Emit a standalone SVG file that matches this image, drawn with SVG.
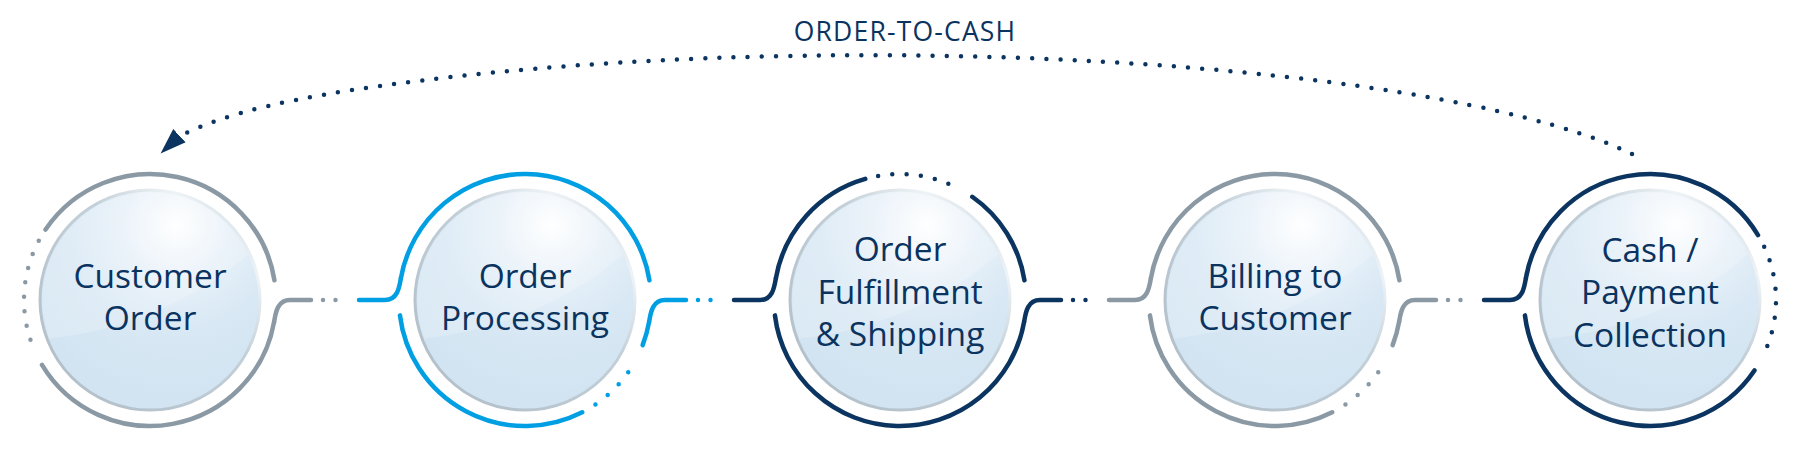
<svg xmlns="http://www.w3.org/2000/svg" xmlns:xlink="http://www.w3.org/1999/xlink" width="1800" height="450" viewBox="0 0 1800 450">
<style>
.ring{fill:none;stroke-width:4.5;stroke-linecap:round}
.dots{fill:none;stroke-width:4.5;stroke-linecap:round}
.grey{stroke:#8a99a4}
.blue{stroke:#009fe3}
.navy{stroke:#0b3560}
.label{font-family:"Open Sans","Liberation Sans",sans-serif;font-weight:400;font-size:33.5px;fill:#0b3360;text-anchor:middle}
.title{font-family:"Open Sans","Liberation Sans",sans-serif;font-weight:400;font-size:26.5px;fill:#0b3360;text-anchor:middle;letter-spacing:1.2px}
</style>
<defs>
<radialGradient id="glass" cx="0.62" cy="0.16" r="0.78">
<stop offset="0" stop-color="#ffffff"/>
<stop offset="0.3" stop-color="#e8f1f9"/>
<stop offset="0.62" stop-color="#d8e8f4"/>
<stop offset="1" stop-color="#d2e4f2"/>
</radialGradient>
<linearGradient id="rim" x1="0" y1="1" x2="1" y2="0">
<stop offset="0" stop-color="#aebcc7"/>
<stop offset="0.6" stop-color="#c4d0d8"/>
<stop offset="0.8" stop-color="#eef3f6"/>
<stop offset="1" stop-color="#c4d0d8"/>
</linearGradient>
<g id="bubble">
<circle r="110" fill="url(#glass)"/>
<path d="M -100.8,38.7 A 108 108 0 0 1 97.9,-45.6 Q 15,25 -100.8,38.7 Z" fill="#ffffff" opacity="0.2"/>
<circle r="110" fill="none" stroke="url(#rim)" stroke-width="3"/>
</g>
<marker id="arrow" markerUnits="userSpaceOnUse" markerWidth="30" markerHeight="20" viewBox="0 -10 30 20" refX="2" refY="0" orient="136.5">
<path d="M0,-9 L26,0 L0,9 Z" fill="#0b3560"/>
</marker>
</defs>

<g id="cycle">
<text class="title" x="905" y="41">ORDER-TO-CASH</text>
<path class="dots navy" stroke-dasharray="0 14.2" d="M 1632,154 A 820 156 0 0 0 387,85 C 300,97 225,112 178,137" marker-end="url(#arrow)"/>
</g>

<g id="connectors">
<path class="ring grey" d="M 274.09,321.88 C 275.5,314 277,300 290,300 L 311,300"/>
<path class="dots grey" stroke-dasharray="0 12.5" d="M 323,300 L 348,300"/>
<path class="ring blue" d="M 359,300 L 385,300 C 398,300 399.5,286 400.91,278.13"/>

<path class="ring blue" d="M 649.09,321.88 C 650.5,314 652,300 665,300 L 686,300"/>
<path class="dots blue" stroke-dasharray="0 12.5" d="M 698,300 L 723,300"/>
<path class="ring navy" d="M 734,300 L 760,300 C 773,300 774.5,286 775.91,278.13"/>

<path class="ring navy" d="M 1024.09,321.88 C 1025.5,314 1027,300 1040,300 L 1061,300"/>
<path class="dots navy" stroke-dasharray="0 12.5" d="M 1073,300 L 1098,300"/>
<path class="ring grey" d="M 1109,300 L 1135,300 C 1148,300 1149.5,286 1150.91,278.13"/>

<path class="ring grey" d="M 1399.09,321.88 C 1400.5,314 1402,300 1415,300 L 1436,300"/>
<path class="dots grey" stroke-dasharray="0 12.5" d="M 1448,300 L 1473,300"/>
<path class="ring navy" d="M 1484,300 L 1510,300 C 1523,300 1524.5,286 1525.91,278.13"/>
</g>

<g id="node-customer-order">
<path class="ring grey" d="M 45.55,229.54 A 126 126 0 0 1 274.45,280.29"/>
<path class="ring grey" d="M 42.00,364.89 A 126 126 0 0 0 274.09,321.88"/>
<path class="dots grey" stroke-dasharray="0 14.57" d="M 38.75,240.84 A 126 126 0 0 0 35.81,353.25"/>
<use xlink:href="#bubble" x="150" y="300"/>
<text class="label" x="150" y="288">Customer</text>
<text class="label" x="150" y="330">Order</text>
</g>

<g id="node-order-processing">
<path class="ring blue" d="M 400.91,278.13 A 126 126 0 0 1 649.45,280.29"/>
<path class="ring blue" d="M 399.94,315.36 A 126 126 0 0 0 582.20,412.27"/>
<path class="dots blue" stroke-dasharray="0 15.39" d="M 595.46,404.46 A 126 126 0 0 0 636.25,359.16"/>
<path class="ring blue" d="M 642.63,345.15 A 126 126 0 0 0 649.09,321.88"/>
<use xlink:href="#bubble" x="525" y="300"/>
<text class="label" x="525" y="288">Order</text>
<text class="label" x="525" y="330">Processing</text>
</g>

<g id="node-fulfillment">
<path class="ring navy" d="M 775.91,278.13 A 126 126 0 0 1 865.27,178.88"/>
<path class="dots navy" stroke-dasharray="0 14.29" d="M 878.12,175.91 A 126 126 0 0 1 961.09,189.80"/>
<path class="ring navy" d="M 972.27,196.78 A 126 126 0 0 1 1024.45,280.29"/>
<path class="ring navy" d="M 774.94,315.36 A 126 126 0 0 0 1024.09,321.88"/>
<use xlink:href="#bubble" x="900" y="300"/>
<text class="label" x="900" y="261">Order</text>
<text class="label" x="900" y="304">Fulfillment</text>
<text class="label" x="900" y="346">&amp; Shipping</text>
</g>

<g id="node-billing">
<path class="ring grey" d="M 1150.91,278.13 A 126 126 0 0 1 1399.45,280.29"/>
<path class="ring grey" d="M 1149.94,315.36 A 126 126 0 0 0 1332.20,412.27"/>
<path class="dots grey" stroke-dasharray="0 15.39" d="M 1345.46,404.46 A 126 126 0 0 0 1386.25,359.16"/>
<path class="ring grey" d="M 1392.63,345.15 A 126 126 0 0 0 1399.09,321.88"/>
<use xlink:href="#bubble" x="1275" y="300"/>
<text class="label" x="1275" y="288">Billing to</text>
<text class="label" x="1275" y="330">Customer</text>
</g>

<g id="node-cash">
<path class="ring navy" d="M 1525.91,278.13 A 126 126 0 0 1 1758.01,235.11"/>
<path class="dots navy" stroke-dasharray="0 14.57" d="M 1764.19,246.75 A 126 126 0 0 1 1761.25,359.16"/>
<path class="ring navy" d="M 1754.45,370.46 A 126 126 0 0 1 1524.94,315.36"/>
<use xlink:href="#bubble" x="1650" y="300"/>
<text class="label" x="1650" y="262">Cash /</text>
<text class="label" x="1650" y="304">Payment</text>
<text class="label" x="1650" y="347">Collection</text>
</g>
</svg>
